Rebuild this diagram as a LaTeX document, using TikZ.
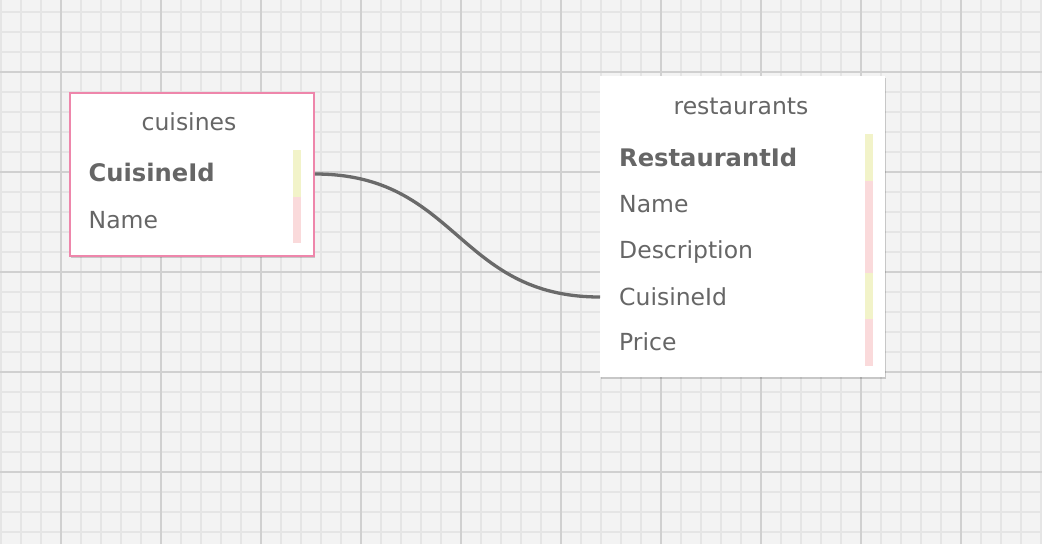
\documentclass[tikz,border=0pt]{standalone}
\usepackage{fontspec}
\setmainfont{DejaVu Sans}
\usetikzlibrary{shadows}
\definecolor{bg}{HTML}{F3F3F3}
\definecolor{minorgrid}{HTML}{E5E5E5}
\definecolor{majorgrid}{HTML}{D0D0D0}
\definecolor{txt}{HTML}{666666}
\definecolor{pinkborder}{HTML}{EE86AB}
\definecolor{keybar}{HTML}{F2F3C9}
\definecolor{fieldbar}{HTML}{FADADB}
\definecolor{wire}{HTML}{6A6A6A}
\tikzset{
  table/.style={fill=white, inner sep=0pt, anchor=north west,
    drop shadow={shadow xshift=0.6pt, shadow yshift=-1.6pt, opacity=0.18, fill=black}},
  title/.style={text=txt, font=\fontsize{23.5}{28}\selectfont, inner sep=0pt, anchor=base},
  field/.style={text=txt, font=\fontsize{23.5}{28}\selectfont, inner sep=0pt, anchor=base west},
  keyfield/.style={field, font=\fontsize{24.2}{28}\selectfont\bfseries},
  relation/.style={draw=wire, line width=3.3pt},
}
\begin{document}
\begin{tikzpicture}[x=1pt,y=-1pt]
\useasboundingbox (0,0) rectangle (1042,544);
\fill[bg] (0,0) rectangle (1042,544);
% grid
\foreach \x in {1,21,...,1041} \draw[minorgrid, line width=1.7pt] (\x,0) -- (\x,544);
\foreach \y in {12,32,...,532} \draw[minorgrid, line width=1.7pt] (0,\y) -- (1042,\y);
\foreach \x in {61,161,...,961} \draw[majorgrid, line width=1.9pt] (\x,0) -- (\x,544);
\foreach \y in {72,172,...,472} \draw[majorgrid, line width=1.9pt] (0,\y) -- (1042,\y);

% cuisines table
\node[table, draw=pinkborder, line width=1.9pt, minimum width=244pt, minimum height=163pt] (cuisines) at (69,92) {};
\fill[keybar] (293,150) rectangle (301,197);
\fill[fieldbar] (293,197) rectangle (301,243);
\node[title] (ctitle) at (189,130) {cuisines};
\node[keyfield] (c1) at (88.5,181.7) {CuisineId};
\node[field] (c2) at (88.5,228.3) {Name};

% restaurants table
\node[table, minimum width=285pt, minimum height=301pt] (restaurants) at (600,76) {};
\fill[keybar] (865,134) rectangle (873,181);
\fill[fieldbar] (865,181) rectangle (873,273);
\fill[keybar] (865,273) rectangle (873,319);
\fill[fieldbar] (865,319) rectangle (873,366);
\node[title] (rtitle) at (741,114.3) {restaurants};
\node[keyfield] (r1) at (619,166.7) {RestaurantId};
\node[field] (r2) at (619,212.7) {Name};
\node[field] (r3) at (619,258.5) {Description};
\node[field] (r4) at (619,305) {CuisineId};
\node[field] (r5) at (619,350.5) {Price};

% relation
\coordinate (cstart) at (cuisines.east |- 0,174);
\coordinate (rend) at (restaurants.west |- 0,297);
\draw[relation] (cstart) .. controls +(143,0) and +(-143,0) .. (rend);
\end{tikzpicture}
\end{document}
